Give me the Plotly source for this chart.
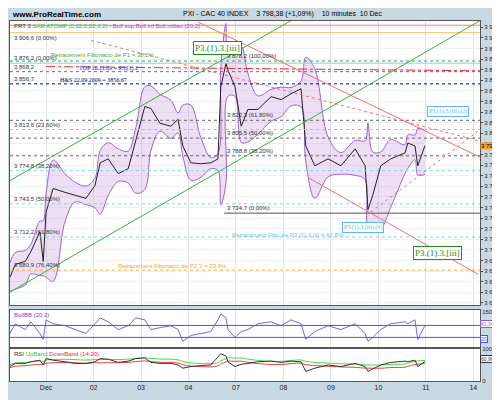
import pandas as pd
import plotly.graph_objects as go

# time axis in trading days (0 = Dec 1), price closes
days = [-0.76, -0.65, -0.44, -0.32, -0.13, -0.06, 0.0, 0.15, 0.40, 0.61, 0.84, 1.03, 1.14, 1.31,
        1.52, 1.73, 1.89, 2.08, 2.21, 2.40, 2.63, 2.78, 2.88, 3.05, 3.26, 3.47, 3.62, 3.68, 3.79,
        3.83, 3.98, 4.11, 4.25, 4.46, 4.74, 4.95, 5.16, 5.37, 5.47, 5.66, 5.94, 6.21, 6.51, 6.72,
        6.78, 6.88, 7.05, 7.26, 7.56, 7.62, 7.77, 7.83, 7.98]
price = [3674.2, 3686.3, 3689.1, 3698.4, 3717.0, 3689.1, 3735.7, 3758.0, 3754.3, 3751.5, 3748.7,
         3760.8, 3782.2, 3785.9, 3772.0, 3776.6, 3804.6, 3835.3, 3833.4, 3819.5, 3816.7, 3823.2,
         3798.1, 3782.2, 3781.3, 3782.2, 3785.9, 3853.9, 3876.0, 3869.7, 3853.9, 3816.7, 3832.5,
         3832.5, 3844.6, 3841.8, 3847.4, 3852.1, 3798.1, 3779.4, 3785.9, 3779.4, 3795.3, 3779.4,
         3738.0, 3751.5, 3779.4, 3785.9, 3791.5, 3800.8, 3798.1, 3779.4, 3798.4]
bollb = [40, 90, 60, 100, 40, 10, 110, 90, 80, 60, 40, 90, 120, 100, 60, 80, 120, 110, 60, 70, 80,
         60, 0, 30, 40, 50, 110, 140, 120, 60, 20, 50, 60, 90, 100, 80, 110, 90, 10, 50, 80, 60, 90,
         40, 0, 20, 60, 90, 100, 90, 110, 10, 81.3]
rsi = [45, 55, 55, 60, 65, 50, 70, 65, 60, 55, 55, 60, 70, 68, 58, 62, 70, 72, 58, 55, 55, 50, 40,
       45, 48, 50, 75, 85, 78, 60, 45, 52, 55, 60, 62, 58, 62, 60, 30, 40, 50, 45, 55, 45, 30, 38,
       50, 58, 62, 60, 65, 45, 60.97]

tick_pos = [0, 1, 2, 3, 4, 5, 6, 7, 8, 9]
tick_text = ["Dec", "02", "03", "04", "07", "08", "09", "10", "11", "14"]
price_ticks = list(range(3650, 3911, 10))

# horizontal levels: (price, colour, dash, label)
levels = [
    (3912.0, "#f08080", "solid", ""),
    (3905.0, "#f5c26b", "solid", "3 906,6 (0,00%)"),
    (3878.2, "#3aa83a", "dot", ""),
    (3876.2, "#87cefa", "solid", "3 876,2 (0,00%)"),
    (3868.2, "#6060e0", "dot", "3 868,2"),
    (3856.7, "#0000b0", "dot", "3 856,7"),
    (3822.3, "#666666", "dot", ""),
    (3813.6, "#87cefa", "dot", "3 813,6 (23,60%)"),
    (3805.5, "#666666", "dot", ""),
    (3788.8, "#666666", "dot", ""),
    (3774.8, "#87cefa", "dot", "3 774,8 (38,20%)"),
    (3743.5, "#87cefa", "dot", "3 743,5 (50,00%)"),
    (3712.2, "#87cefa", "dot", "3 712,2 (61,80%)"),
    (3680.9, "#f5b041", "dot", "3 680,9 (76,40%)"),
]
# trend lines: ((day0, price0), (day1, price1), colour, dash)
trends = [
    ((-0.76, 3660.2), (9.14, 3916.3), "#33b533", "solid"),
    ((-0.76, 3765.5), (5.16, 3916.3), "#33b533", "solid"),
    ((3.2, 3915.0), (9.3, 3784.1), "#f07070", "solid"),
    ((5.52, 3768.3), (9.1, 3677.0), "#f07070", "solid"),
    ((0.95, 3897.7), (9.3, 3800.8), "#f07070", "dot"),
    ((6.84, 3735.7), (9.1, 3812.0), "#f07070", "dot"),
    ((0.0, 3873.0), (9.14, 3869.0), "#e03030", "dashdot"),
]

df = pd.DataFrame({"d": days, "p": price, "rsi": rsi})
mid = df["p"].rolling(3, min_periods=1).mean()
sd = df["p"].rolling(3, min_periods=2).std().fillna(6) + 3
up, lo = mid + 1.5 * sd, mid - 1.5 * sd
rmid = df["rsi"].rolling(6, min_periods=1).mean()

fig = go.Figure()
fig.add_trace(go.Scatter(x=days, y=up, line=dict(color="#a060d0", width=1, shape="spline"),
                         showlegend=False, hoverinfo="skip"))
fig.add_trace(go.Scatter(x=days, y=lo, line=dict(color="#a060d0", width=1, shape="spline"),
                         fill="tonexty", fillcolor="rgba(200,150,220,0.3)", showlegend=False,
                         hoverinfo="skip"))
for lv, col, dash, lab in levels:
    fig.add_shape(type="line", xref="paper", x0=0, x1=1, y0=lv, y1=lv,
                  line=dict(color=col, width=1, dash=dash))
    if lab:
        fig.add_annotation(xref="paper", x=0.005, y=lv, text=lab, showarrow=False,
                           xanchor="left", yanchor="top" if lv > 3900 else "bottom",
                           font=dict(size=6, color="#333"))
fig.add_shape(type="line", x0=3.75, x1=9.2, y0=3734.7, y1=3734.7, line=dict(color="#555", width=1))
for (a, b), (c, e), col, dash in trends:
    fig.add_shape(type="line", x0=a, y0=b, x1=c, y1=e, line=dict(color=col, width=1, dash=dash))
for lv, lab in [(3822.3, "3 822,3 (61,80%)"), (3805.5, "3 805,5 (50,00%)"),
                (3788.8, "3 788,8 (38,20%)"), (3734.7, "3 734,7 (0,00%)"),
                (3878.2, "3 878,2 (100,00%)")]:
    fig.add_annotation(x=3.77, y=lv, text=lab, showarrow=False, xanchor="left",
                       yanchor="bottom", font=dict(size=6, color="#333"))
fig.add_trace(go.Scatter(x=days, y=price, line=dict(color="#222", width=1), showlegend=False))

serif = "Liberation Serif"
notes = [
    (3.62, 3891, "P3.(1).3.[iii]", "#228b22", 9, "#228b22"),
    (8.25, 3697, "P3.(1).3.[iii]", "#228b22", 9, "#228b22"),
    (8.46, 3831, "P3.(1).3.(iii).(2)", "#5bb8e8", 6, "#5bb8e8"),
    (6.67, 3721, "P3.(1).3.(iii).(4)", "#5bb8e8", 6, "#5bb8e8"),
]
for x, y, t, c, s, bc in notes:
    fig.add_annotation(x=x, y=y, text=t, showarrow=False, font=dict(family=serif, size=s, color=c),
                       bordercolor=bc, borderwidth=1, bgcolor="white", borderpad=1)
texts = [
    (1.31, 3871, "TOP 16.11.09 = P3.(1).2", "#2020e0", serif),
    (0.99, 3860, "H&S 22.09.2009 = 3856,67", "#000080", serif),
    (1.2, 3884, "Retracement Fibonacci de P1 = 38.2%", "#40b040", "Liberation Sans"),
    (2.67, 3685, "Retracement Fibonacci de P2.Y = 23.6%", "#f5a030", "Liberation Sans"),
    (5.09, 3714, "Retracement Fibo de P3.(1).3.(ii) = 61.8%", "#70c0f0", "Liberation Sans"),
]
for x, y, t, c, f in texts:
    fig.add_annotation(x=x, y=y, text=t, showarrow=False, font=dict(family=f, size=6, color=c))

# oscillator panels
fig.add_trace(go.Scatter(x=days, y=bollb, xaxis="x2", yaxis="y2", showlegend=False,
                         line=dict(color="#8060e0", width=1)))
for lv in [81.341, 20]:
    fig.add_shape(type="line", xref="x2 domain", yref="y2", x0=0, x1=1, y0=lv, y1=lv,
                  line=dict(color="#5050e0", width=1))
fig.add_trace(go.Scatter(x=days, y=rmid + 6, xaxis="x3", yaxis="y3", showlegend=False,
                         line=dict(color="#40e040", width=1, shape="spline")))
fig.add_trace(go.Scatter(x=days, y=rmid - 4, xaxis="x3", yaxis="y3", showlegend=False,
                         line=dict(color="#f04040", width=1, shape="spline")))
fig.add_trace(go.Scatter(x=days, y=rsi, xaxis="x3", yaxis="y3", showlegend=False,
                         line=dict(color="#333", width=1)))

small = dict(size=6, color="#222", family="Liberation Sans")
xcommon = dict(range=[-0.76, 9.14], tickvals=tick_pos, showgrid=True, gridcolor="#dde3e8",
               zeroline=False, showline=True, linecolor="#555", mirror=True)
fig.update_layout(
    width=500, height=400, paper_bgcolor="#c9d9e3", plot_bgcolor="white",
    margin=dict(l=2, r=28, t=13, b=27),
    xaxis=dict(**xcommon, showticklabels=False, anchor="y"),
    xaxis2=dict(**xcommon, showticklabels=False, anchor="y2", matches="x"),
    xaxis3=dict(**xcommon, ticktext=tick_text, tickfont=dict(size=7, color="#222"),
                anchor="y3", matches="x"),
    yaxis=dict(domain=[0.211, 1], range=[3648, 3916], side="right", tickvals=price_ticks,
               ticktext=[f"3 {v - 3000:03d}" for v in price_ticks], tickfont=small,
               showgrid=True, gridcolor="#eef1f3", zeroline=False, showline=True,
               linecolor="#555", mirror=True, ticks="outside", ticklen=2),
    yaxis2=dict(domain=[0.094, 0.197], range=[-30, 160], side="right", anchor="x2",
                tickvals=[150], tickfont=small, showgrid=False, zeroline=False,
                showline=True, linecolor="#555", mirror=True),
    yaxis3=dict(domain=[0, 0.089], range=[0, 100], side="right", anchor="x3",
                tickvals=[0, 100], tickfont=small, showgrid=False, zeroline=False,
                showline=True, linecolor="#555", mirror=True),
    font=dict(family="Liberation Sans"),
)
fig.add_annotation(xref="paper", yref="paper", x=0, y=1.035, text="<b>www.ProRealTime.com</b>",
                   showarrow=False, xanchor="left", font=dict(size=8, color="#000"))
fig.add_annotation(xref="paper", yref="paper", x=0.58, y=1.035,
                   text="PXI - CAC 40 INDEX    3 798,38 (+1,09%)    10 minutes  10 Dec",
                   showarrow=False, font=dict(size=7, color="#000"))
fig.add_annotation(xref="paper", yref="paper", x=0.005, y=1.0, xanchor="left", yanchor="top",
                   text="PRT 3 <span style='color:#40b040'>SAR ATOMP (0,02,0,02,0,2)</span>"
                        " - <span style='color:#b040c0'>Boll sup Boll inf Boll milieu (20,2)</span>",
                   showarrow=False, font=dict(size=6, color="#333"))
fig.add_annotation(xref="paper", yref="paper", x=0.005, y=0.197, xanchor="left", yanchor="top",
                   text="BollBB (20,2)", showarrow=False, font=dict(size=6, color="#8040c0"))
fig.add_annotation(xref="paper", yref="paper", x=0.005, y=0.089, xanchor="left", yanchor="top",
                   text="RSI <span style='color:#30c030'>UpBand</span> "
                        "<span style='color:#e03030'>DownBand (14;20)</span>",
                   showarrow=False, font=dict(size=6, color="#333"))
fig.add_annotation(xref="paper", x=1.0, y=price[-1], text="3 798", showarrow=False,
                   xanchor="left", bgcolor="#f5a623", borderpad=0, font=dict(size=6, color="#000"))
fig.add_annotation(xref="paper", yref="paper", x=1.0, y=0.148, text="81,341", showarrow=False,
                   xanchor="left", bgcolor="white", bordercolor="#8060e0", borderwidth=1,
                   borderpad=0, font=dict(size=5, color="#8060e0"))
fig.add_annotation(xref="paper", yref="paper", x=1.0, y=0.105, text="20", showarrow=False,
                   xanchor="left", bgcolor="white", bordercolor="#5050e0", borderwidth=1,
                   borderpad=0, font=dict(size=5, color="#5050e0"))
fig.add_annotation(xref="paper", yref="paper", x=1.0, y=0.05, text="60,965", showarrow=False,
                   xanchor="left", bgcolor="white", bordercolor="#333", borderwidth=1,
                   borderpad=0, font=dict(size=5, color="#333"))

fig.write_html("out.html")
